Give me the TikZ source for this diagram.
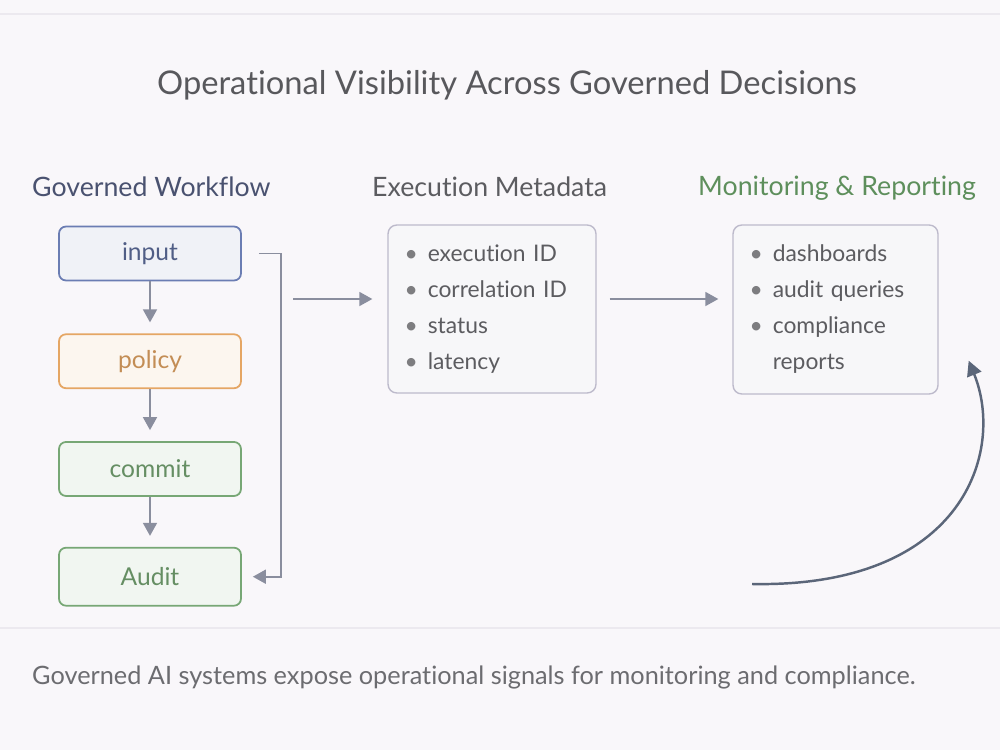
\documentclass[tikz,border=0pt]{standalone}
\usepackage{fontspec}
\setmainfont{Lato}[Ligatures=NoCommon]
\usetikzlibrary{arrows.meta,positioning,calc}
\definecolor{gvBack}{HTML}{F9F7FA}
\definecolor{gvRule}{HTML}{ECE9EF}
\definecolor{gvTitle}{HTML}{58585C}
\definecolor{gvHead}{HTML}{4A5270}
\definecolor{gvMeta}{HTML}{5C5C60}
\definecolor{gvGreen}{HTML}{5E8F5C}
\definecolor{gvBlue}{HTML}{6B7DB3}
\definecolor{gvOrange}{HTML}{E5A664}
\definecolor{gvCommit}{HTML}{77A775}
\definecolor{gvArrow}{HTML}{8A8E9E}
\definecolor{gvBox}{HTML}{BDBACB}
\definecolor{gvCurve}{HTML}{5B6679}
\tikzset{
  stage/.style={
    draw, rounded corners=4pt, line width=1pt, minimum width=3.64cm,
    minimum height=1.08cm, font=\fontsize{14}{16}\selectfont
  },
  inputbox/.style={stage, draw=gvBlue, fill=gvBlue!10, text=gvBlue!75!black},
  policybox/.style={stage, draw=gvOrange, fill=gvOrange!10, text=gvOrange!85!black},
  commitbox/.style={stage, draw=gvCommit, fill=gvCommit!10, text=gvCommit!85!black},
  infobox/.style={
    draw=gvBox, fill=gvBox!12, rounded corners=5pt, line width=0.8pt,
    inner xsep=0.33cm, inner ysep=0pt, text=gvMeta, align=left,
    font=\fontsize{13}{20.5}\selectfont
  },
  colhead/.style={font=\fontsize{15.2}{18}\selectfont, anchor=west},
  flow/.style={-{Triangle[length=2.6mm, width=2.8mm]}, line width=1pt, gvArrow},
  loopback/.style={-{Triangle[length=3mm, width=3mm]}, line width=1.4pt, gvCurve},
  rule/.style={gvRule, line width=0.8pt}
}
\newcommand{\gvitem}{{\color{gvMeta!80}\textbullet}\hspace{0.2cm}}

\begin{document}
\begin{tikzpicture}[x=0.02cm, y=-0.02cm, node distance=1.04cm]
  \fill[gvBack] (0,0) rectangle (1000,750);
  \useasboundingbox (0,0) rectangle (1000,750);
  \draw[rule] (0,14) -- (1000,14);
  \draw[rule] (0,628) -- (1000,628);

  % title and column headers
  \node[font=\fontsize{18.6}{22}\selectfont, text=gvTitle] (title) at (507,85)
    {Operational Visibility Across Governed Decisions};
  \node[colhead, text=gvHead] (hwf) at (26,187) {Governed Workflow};
  \node[colhead, text=gvMeta] (hmeta) at (366,187) {Execution Metadata};
  \node[colhead, text=gvGreen] (hmon) at (692,188) {Monitoring \& Reporting};

  % workflow stack
  \node[inputbox] (input) at (150,253.5) {input};
  \node[policybox, below=of input] (policy) {policy};
  \node[commitbox, below=of policy] (commit) {commit};
  \node[commitbox, below=1.0cm of commit, minimum height=1.16cm] (audit) {Audit};
  \draw[flow, shorten >=0.22cm] (input) -- (policy);
  \draw[flow, shorten >=0.22cm] (policy) -- (commit);
  \draw[flow, shorten >=0.22cm] (commit) -- (audit);
  \draw[flow] ([xshift=0.34cm]input.east) -- ++(22,0) |- ([xshift=0.22cm]audit.east);

  % metadata and monitoring
  \node[infobox, minimum width=4.16cm, minimum height=3.36cm, text width=3.5cm]
    (meta) at (492,309)
    {\gvitem execution ID\\ \gvitem correlation ID\\ \gvitem status\\ \gvitem latency};
  \node[infobox, minimum width=4.1cm, minimum height=3.38cm, text width=3.44cm,
    inner xsep=0.3cm]
    (mon) at (835.5,309.5)
    {\gvitem dashboards\\ \gvitem audit queries\\ \gvitem compliance\\
     \hphantom{\gvitem}reports};
  \coordinate (bus) at (280,299);
  \draw[flow, shorten <=0.26cm, shorten >=0.3cm] (bus) -- (meta.west |- bus);
  \draw[flow, shorten <=0.26cm, shorten >=0.28cm] (meta.east |- bus) -- (mon.west |- bus);

  % feedback
  \coordinate (fb) at (752,584);
  \draw[loopback] (fb) .. controls (965,588) and (1005,450) .. ([shift={(30,-34)}]mon.south east);

  \node[font=\fontsize{14.4}{17}\selectfont, text=gvMeta!90, anchor=west] (caption) at (26,677)
    {Governed AI systems expose operational signals for monitoring and compliance.};
\end{tikzpicture}
\end{document}
